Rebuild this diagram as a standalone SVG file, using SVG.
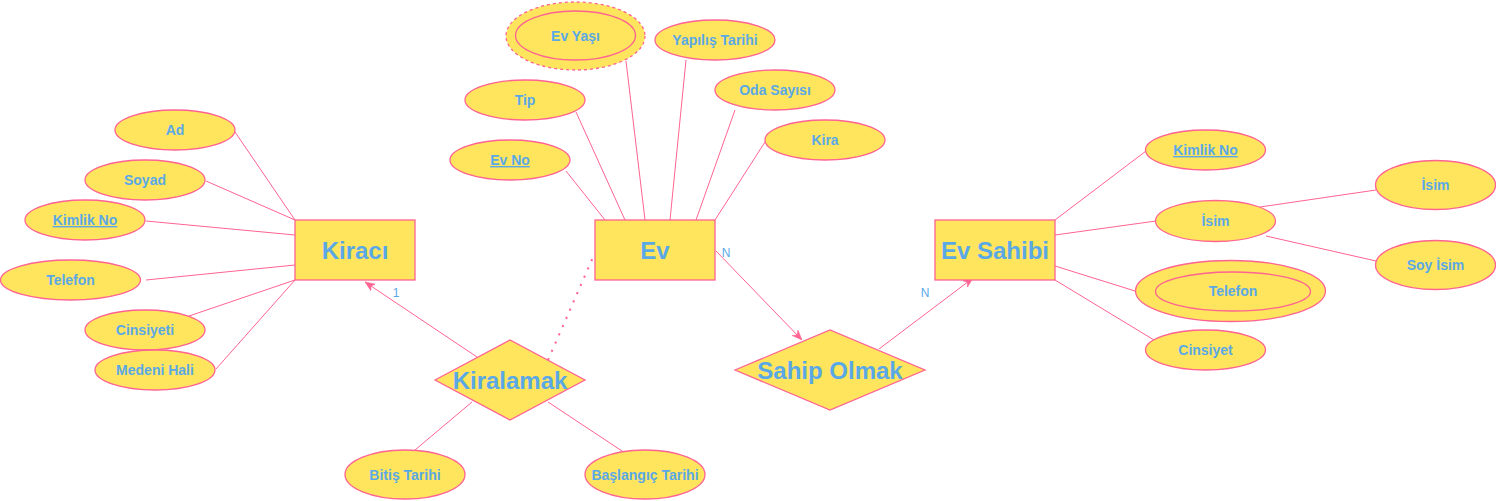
<svg xmlns="http://www.w3.org/2000/svg" width="1496" height="501" viewBox="0 0 1496 501">
<defs>
<style>
.sh{fill:#FFE45E;stroke:#FF6392;stroke-width:1.3}
.ln{stroke:#FF6392;stroke-width:1;fill:none}
.t{font-family:"Liberation Sans",Arial,sans-serif;font-weight:bold;fill:#5AA9E6;text-anchor:middle}
.a{font-size:14px}
.b{font-size:24px}
.c{font-family:"Liberation Sans",Arial,sans-serif;font-size:12px;fill:#5AA9E6;text-anchor:middle}
.u{text-decoration:underline}
</style>
<marker id="arr" viewBox="0 0 10 10" refX="10" refY="5" markerWidth="10" markerHeight="10" markerUnits="userSpaceOnUse" orient="auto">
<path d="M0,1 L10,5 L0,9 L3,5 Z" fill="#FF6392" stroke="#FF6392" stroke-width="0.5"/>
</marker>
</defs>
<rect width="1496" height="501" fill="#ffffff"/>
<g id="connectors">
<line class="ln" x1="235" y1="132" x2="295" y2="220"/>
<line class="ln" x1="206" y1="181" x2="295" y2="220"/>
<line class="ln" x1="146" y1="221" x2="295" y2="235"/>
<line class="ln" x1="146" y1="280" x2="295" y2="265"/>
<line class="ln" x1="189" y1="316" x2="295" y2="280"/>
<line class="ln" x1="216" y1="369" x2="295" y2="280"/>
<line class="ln" x1="566" y1="171" x2="605" y2="220"/>
<line class="ln" x1="576" y1="112" x2="625" y2="220"/>
<line class="ln" x1="626" y1="61" x2="645" y2="220"/>
<line class="ln" x1="686" y1="60" x2="670" y2="220"/>
<line class="ln" x1="735" y1="110" x2="696" y2="220"/>
<line class="ln" x1="765" y1="142" x2="715" y2="220"/>
<line class="ln" x1="1055" y1="220" x2="1146" y2="151"/>
<line class="ln" x1="1055" y1="235" x2="1156" y2="221"/>
<line class="ln" x1="1260" y1="207" x2="1376" y2="190"/>
<line class="ln" x1="1266" y1="236" x2="1376" y2="261"/>
<line class="ln" x1="1055" y1="266" x2="1135" y2="291"/>
<line class="ln" x1="1055" y1="280" x2="1154" y2="340"/>
<line class="ln" x1="472" y1="402" x2="415" y2="450"/>
<line class="ln" x1="548" y1="402" x2="622" y2="451"/>
<line class="ln" x1="477" y1="357" x2="365" y2="282" marker-end="url(#arr)"/>
<line class="ln" x1="716" y1="251" x2="802" y2="340" marker-end="url(#arr)"/>
<line class="ln" x1="879" y1="349" x2="973" y2="278" marker-end="url(#arr)"/>
<line x1="548" y1="360" x2="594" y2="255" stroke="#FF6392" stroke-width="2" stroke-dasharray="2 7"/>
<text class="c" x="396" y="297">1</text>
<text class="c" x="726" y="257">N</text>
<text class="c" x="925" y="297">N</text>
</g>
<g id="kiraci"><rect class="sh" x="295" y="220" width="120" height="60"/><text class="t b" x="355" y="258.5">Kiracı</text></g>
<g id="ev"><rect class="sh" x="595" y="220" width="120" height="60"/><text class="t b" x="655" y="258.5">Ev</text></g>
<g id="evsahibi"><rect class="sh" x="935" y="220" width="120" height="60"/><text class="t b" x="995" y="258.5">Ev Sahibi</text></g>
<g id="kiralamak"><polygon class="sh" points="435,380 510,340 585,380 510,420"/><text class="t b" x="510" y="388.5">Kiralamak</text></g>
<g id="sahipolmak"><polygon class="sh" points="735,370 830,330 925,370 830,410"/><text class="t b" x="830" y="378.5">Sahip Olmak</text></g>
<g id="k-ad"><ellipse class="sh" cx="175" cy="130" rx="60" ry="20"/><text class="t a" x="175" y="135">Ad</text></g>
<g id="k-soyad"><ellipse class="sh" cx="145" cy="180" rx="60" ry="20"/><text class="t a" x="145" y="185">Soyad</text></g>
<g id="k-kimlik"><ellipse class="sh" cx="85" cy="220" rx="60" ry="20"/><text class="t a u" x="85" y="225">Kimlik No</text></g>
<g id="k-telefon"><ellipse class="sh" cx="70.5" cy="280" rx="70" ry="20"/><text class="t a" x="70.5" y="285">Telefon</text></g>
<g id="k-cinsiyeti"><ellipse class="sh" cx="145" cy="330" rx="60" ry="20"/><text class="t a" x="145" y="335">Cinsiyeti</text></g>
<g id="k-medeni"><ellipse class="sh" cx="155" cy="370" rx="60" ry="20"/><text class="t a" x="155" y="375">Medeni Hali</text></g>
<g id="e-evyasi"><ellipse class="sh" cx="575.5" cy="36" rx="69.5" ry="34" stroke-dasharray="3 3"/><ellipse class="sh" cx="575.5" cy="35.5" rx="60" ry="24.5"/><text class="t a" x="575.5" y="40.5">Ev Yaşı</text></g>
<g id="e-yapilis"><ellipse class="sh" cx="715" cy="40" rx="60" ry="20"/><text class="t a" x="715" y="45">Yapılış Tarihi</text></g>
<g id="e-oda"><ellipse class="sh" cx="775" cy="90" rx="60" ry="20"/><text class="t a" x="775" y="95">Oda Sayısı</text></g>
<g id="e-kira"><ellipse class="sh" cx="825" cy="140" rx="60" ry="20"/><text class="t a" x="825" y="145">Kira</text></g>
<g id="e-tip"><ellipse class="sh" cx="525" cy="100" rx="60" ry="20"/><text class="t a" x="525" y="105">Tip</text></g>
<g id="e-evno"><ellipse class="sh" cx="510" cy="160" rx="60" ry="20"/><text class="t a u" x="510" y="165">Ev No</text></g>
<g id="s-kimlik"><ellipse class="sh" cx="1205.5" cy="150" rx="60" ry="20"/><text class="t a u" x="1205.5" y="155">Kimlik No</text></g>
<g id="s-isim"><ellipse class="sh" cx="1215.5" cy="221" rx="60" ry="20.5"/><text class="t a" x="1215.5" y="226">İsim</text></g>
<g id="s-isim2"><ellipse class="sh" cx="1435.5" cy="185" rx="60" ry="24.5"/><text class="t a" x="1435.5" y="190">İsim</text></g>
<g id="s-soyisim"><ellipse class="sh" cx="1435.5" cy="265" rx="60" ry="24.5"/><text class="t a" x="1435.5" y="270">Soy İsim</text></g>
<g id="s-telefon"><ellipse class="sh" cx="1230.5" cy="291" rx="95" ry="30.5"/><ellipse class="sh" cx="1233" cy="291.5" rx="77.5" ry="19.5"/><text class="t a" x="1233" y="296">Telefon</text></g>
<g id="s-cinsiyet"><ellipse class="sh" cx="1205.5" cy="350" rx="60" ry="20"/><text class="t a" x="1205.5" y="355">Cinsiyet</text></g>
<g id="r-bitis"><ellipse class="sh" cx="405" cy="474.5" rx="60" ry="24.5"/><text class="t a" x="405" y="479.5">Bitiş Tarihi</text></g>
<g id="r-baslangic"><ellipse class="sh" cx="645" cy="474.5" rx="60" ry="24.5"/><text class="t a" x="645" y="479.5">Başlangıç Tarihi</text></g>
</svg>
